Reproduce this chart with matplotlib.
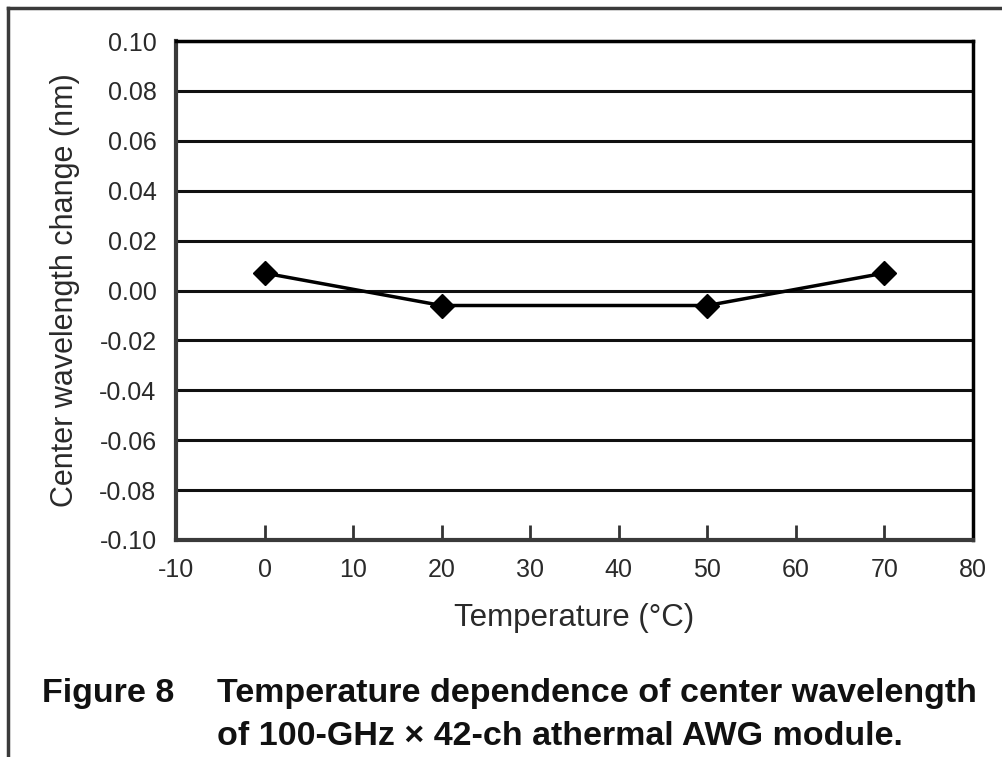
import matplotlib
matplotlib.use('Agg')
import matplotlib.pyplot as plt
from matplotlib.lines import Line2D

# data
temperature = [0, 20, 50, 70]
wavelength_change = [0.007, -0.006, -0.006, 0.007]
x_ticks = [-10, 0, 10, 20, 30, 40, 50, 60, 70, 80]
y_ticks = [-0.10, -0.08, -0.06, -0.04, -0.02, 0.00, 0.02, 0.04, 0.06, 0.08, 0.10]

plt.rcParams['font.family'] = ['Liberation Sans', 'DejaVu Sans']
text_col = '#2a2a2a'

fig = plt.figure(figsize=(10.02, 7.57), dpi=100)
ax = fig.add_axes([0.1756, 0.2867, 0.7955, 0.659])

# horizontal grid
for yv in y_ticks:
    ax.axhline(yv, color='#111111', linewidth=2.2, zorder=1)

ax.plot(temperature, wavelength_change, color='black', linewidth=2.5,
        marker='D', markersize=12, zorder=3)

ax.set_xlim(-10, 80)
ax.set_ylim(-0.10, 0.10)
ax.set_xticks(x_ticks)
ax.set_xticklabels([str(v) for v in x_ticks])
ax.set_yticks(y_ticks)
ax.set_yticklabels(['%.2f' % v for v in y_ticks])
ax.tick_params(axis='x', direction='in', length=11, width=2, color='#333333',
               labelsize=18, pad=13, labelcolor=text_col)
ax.tick_params(axis='y', length=0, labelsize=18, pad=14, labelcolor=text_col)

for side in ['left', 'bottom']:
    ax.spines[side].set_linewidth(3)
    ax.spines[side].set_color('#3a3a3a')
for side in ['right', 'top']:
    ax.spines[side].set_linewidth(2.5)
    ax.spines[side].set_color('black')

ax.set_xlabel('Temperature (°C)', fontsize=22.5, color=text_col, labelpad=15)
ax.set_ylabel('Center wavelength change (nm)', fontsize=22, color=text_col, labelpad=14)

# outer frame (top and left edges)
fig.add_artist(Line2D([8 / 1002, 1.0], [1 - 8 / 757, 1 - 8 / 757],
                      transform=fig.transFigure, color='#3a3a3a', linewidth=2.5))
fig.add_artist(Line2D([8 / 1002, 8 / 1002], [0.0, 1 - 8 / 757],
                      transform=fig.transFigure, color='#3a3a3a', linewidth=2.5))

# caption
fig.text(42 / 1002, 1 - 702 / 757, 'Figure 8', fontsize=24.5, fontweight='bold',
         color='#111111', va='baseline', ha='left')
fig.text(217 / 1002, 1 - 702 / 757, 'Temperature dependence of center wavelength',
         fontsize=24.5, fontweight='bold', color='#111111', va='baseline', ha='left')
fig.text(217 / 1002, 1 - 745 / 757, 'of 100-GHz × 42-ch athermal AWG module.',
         fontsize=24.5, fontweight='bold', color='#111111', va='baseline', ha='left')

fig.savefig('out.png', dpi=100)
